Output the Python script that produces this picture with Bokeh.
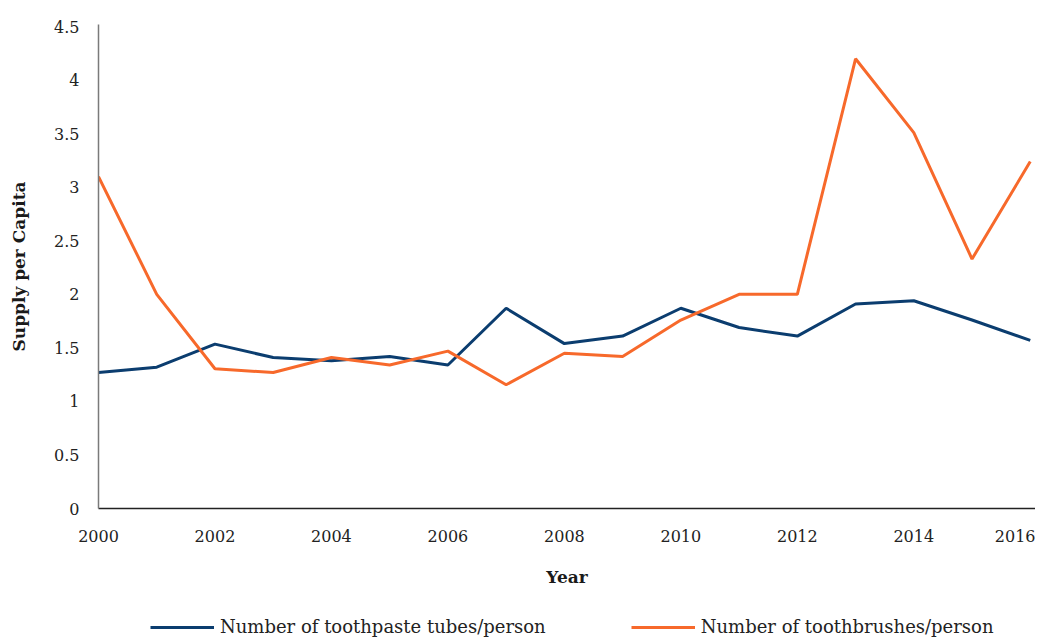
from bokeh.plotting import figure
from bokeh.layouts import column
from bokeh.models import Legend, LegendItem, FixedTicker, Range1d
from bokeh.embed import file_html
from bokeh.resources import INLINE

years = list(range(2000, 2017))
toothpaste = [1.27, 1.32, 1.535, 1.41, 1.38, 1.42, 1.34, 1.87, 1.54, 1.61,
              1.87, 1.69, 1.61, 1.91, 1.94, 1.76, 1.57]
toothbrushes = [3.10, 2.00, 1.305, 1.27, 1.41, 1.34, 1.47, 1.156, 1.45, 1.42,
                1.76, 2.00, 2.00, 4.20, 3.51, 2.33, 3.24]
series_names = ["Number of toothpaste tubes/person", "Number of toothbrushes/person"]
x_ticks = [2000, 2002, 2004, 2006, 2008, 2010, 2012, 2014, 2016]
y_ticks = [0, 0.5, 1, 1.5, 2, 2.5, 3, 3.5, 4, 4.5]
y_tick_labels = ["0", "0.5", "1", "1.5", "2", "2.5", "3", "3.5", "4", "4.5"]

FONT = "DejaVu Serif"
BLUE = "#0B3D6F"
ORANGE = "#F7692B"

p = figure(width=1035, height=600, output_backend="svg",
           toolbar_location=None,
           x_range=Range1d(2000, 2016.09), y_range=Range1d(0, 4.52),
           min_border_left=98, min_border_right=0, min_border_top=24,
           min_border_bottom=92)
p.outline_line_color = None
p.xgrid.visible = False
p.ygrid.visible = False

p.line(years, toothpaste, line_color=BLUE, line_width=3)
p.line(years, toothbrushes, line_color=ORANGE, line_width=3)

# axes
p.xaxis.ticker = FixedTicker(ticks=x_ticks)
p.yaxis.ticker = FixedTicker(ticks=y_ticks)
p.yaxis.major_label_overrides = {float(t): l for t, l in zip(y_ticks, y_tick_labels)}
for ax in (p.xaxis[0], p.yaxis[0]):
    ax.major_tick_line_color = None
    ax.minor_tick_line_color = None
    ax.major_label_text_font = FONT
    ax.major_label_text_font_size = "16px"
    ax.major_label_text_color = "#222222"
    ax.axis_label_text_font = FONT
    ax.axis_label_text_font_style = "bold"
    ax.axis_label_text_font_size = "17px"
    ax.axis_label_text_color = "#1a1a1a"
p.xaxis.axis_line_color = "#222222"
p.xaxis.axis_line_width = 1.5
p.yaxis.axis_line_color = "#7a7a7a"
p.yaxis.axis_line_width = 1.5
p.xaxis.axis_label = "Year"
p.yaxis.axis_label = "Supply per Capita"
p.xaxis.major_label_standoff = 15
p.xaxis.axis_label_standoff = 22
p.yaxis.major_label_standoff = 13
p.yaxis.axis_label_standoff = 22

# legend strip below the chart (series drawn off-view, only their legend shows)
lg = figure(width=1035, height=38, output_backend="svg", toolbar_location=None,
            x_range=Range1d(0, 1), y_range=Range1d(0, 1),
            x_axis_type=None, y_axis_type=None,
            min_border_left=0, min_border_right=0, min_border_top=0,
            min_border_bottom=0)
lg.outline_line_color = None
lg.xgrid.visible = False
lg.ygrid.visible = False
l1 = lg.line(years, toothpaste, line_color=BLUE, line_width=3)
l2 = lg.line(years, toothbrushes, line_color=ORANGE, line_width=3)

legend = Legend(items=[LegendItem(label=series_names[0], renderers=[l1]),
                       LegendItem(label=series_names[1], renderers=[l2])],
                orientation="horizontal", location=(52, 1),
                glyph_width=64, glyph_height=18, label_standoff=6, spacing=85,
                label_text_font=FONT, label_text_font_size="18px",
                label_text_color="#222222",
                border_line_color=None, background_fill_alpha=0,
                padding=0, margin=0)
lg.add_layout(legend, "center")

layout = column(p, lg, spacing=0)
open("out.html", "w").write(file_html(layout, INLINE))
